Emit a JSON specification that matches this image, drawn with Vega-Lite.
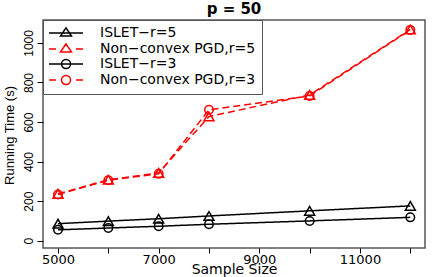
{
  "$schema": "https://vega.github.io/schema/vega-lite/v6.json",
  "width": 382,
  "height": 228,
  "autosize": "none",
  "padding": {"left": 43, "top": 20, "right": 11, "bottom": 29},
  "background": "white",
  "title": {"text": "p = 50", "font": "DejaVu Sans", "fontSize": 15, "fontWeight": "bold", "anchor": "middle", "frame": "group", "baseline": "alphabetic", "offset": -9, "color": "#000"},
  "config": {
    "view": {"stroke": "#555", "strokeWidth": 1.5},
    "axis": {"grid": false, "domain": false, "tickColor": "#000", "labelColor": "#000", "titleColor": "#000"}
  },
  "data": {"values": [
    {"series": "ISLET−r=5", "n": 5000, "time": 86},
    {"series": "ISLET−r=5", "n": 6000, "time": 99},
    {"series": "ISLET−r=5", "n": 7000, "time": 111},
    {"series": "ISLET−r=5", "n": 8000, "time": 125},
    {"series": "ISLET−r=5", "n": 10000, "time": 151},
    {"series": "ISLET−r=5", "n": 12000, "time": 176},
    {"series": "Non−convex PGD,r=5", "n": 5000, "time": 237},
    {"series": "Non−convex PGD,r=5", "n": 6000, "time": 308},
    {"series": "Non−convex PGD,r=5", "n": 7000, "time": 343},
    {"series": "Non−convex PGD,r=5", "n": 8000, "time": 628},
    {"series": "Non−convex PGD,r=5", "n": 10000, "time": 737},
    {"series": "Non−convex PGD,r=5", "n": 12000, "time": 1068},
    {"series": "ISLET−r=3", "n": 5000, "time": 55},
    {"series": "ISLET−r=3", "n": 6000, "time": 64},
    {"series": "ISLET−r=3", "n": 7000, "time": 73},
    {"series": "ISLET−r=3", "n": 8000, "time": 83},
    {"series": "ISLET−r=3", "n": 10000, "time": 100},
    {"series": "ISLET−r=3", "n": 12000, "time": 118},
    {"series": "Non−convex PGD,r=3", "n": 5000, "time": 234},
    {"series": "Non−convex PGD,r=3", "n": 6000, "time": 306},
    {"series": "Non−convex PGD,r=3", "n": 7000, "time": 338},
    {"series": "Non−convex PGD,r=3", "n": 8000, "time": 662},
    {"series": "Non−convex PGD,r=3", "n": 10000, "time": 732},
    {"series": "Non−convex PGD,r=3", "n": 12000, "time": 1066}
  ]},
  "encoding": {
    "x": {"field": "n", "type": "quantitative",
      "scale": {"domain": [4702, 12292], "nice": false, "zero": false},
      "axis": {"title": "Sample Size", "values": [5000, 6000, 7000, 8000, 9000, 10000, 11000, 12000], "format": "d",
        "labelExpr": "datum.value % 2000 == 1000 ? datum.label : ''",
        "tickSize": 5, "labelPadding": 0, "labelFont": "DejaVu Sans", "labelFontSize": 13, "labelFlush": false, "labelOverlap": false,
        "titleFont": "DejaVu Sans", "titleFontSize": 14, "titleFontWeight": "normal", "titleBaseline": "alphabetic", "titleY": 25}},
    "y": {"field": "time", "type": "quantitative",
      "scale": {"domain": [-37, 1116], "nice": false, "zero": false},
      "axis": {"title": "Running Time (s)", "values": [0, 200, 400, 600, 800, 1000], "format": "d",
        "tickSize": 6, "labelAngle": 270, "labelAlign": "center", "labelBaseline": "alphabetic", "labelPadding": 5,
        "labelFont": "Liberation Sans", "labelFontSize": 12, "labelFlush": false,
        "titleFont": "Liberation Sans", "titleFontSize": 13, "titleFontWeight": "normal", "titleAngle": 270,
        "titleBaseline": "alphabetic", "titleX": -30, "titleY": 115}},
    "color": {"field": "series", "type": "nominal",
      "scale": {"domain": ["ISLET−r=5", "Non−convex PGD,r=5", "ISLET−r=3", "Non−convex PGD,r=3"], "range": ["#000000", "#FF0000", "#000000", "#FF0000"]},
      "legend": {"orient": "none", "legendX": 0, "legendY": 0, "title": null, "fillColor": "white", "strokeColor": "#555",
        "padding": 6, "labelFont": "DejaVu Sans", "labelFontSize": 14, "labelOffset": 37, "rowPadding": 0,
        "symbolSize": 144, "symbolStrokeWidth": 1.5, "symbolOpacity": 1, "symbolFillColor": "transparent",
        "labelLimit": 300, "cornerRadius": 0, "labelColor": "#000"}}
  },
  "layer": [
    {"mark": {"type": "line", "strokeWidth": 1.5},
     "encoding": {
       "strokeDash": {"field": "series", "type": "nominal",
         "scale": {"domain": ["ISLET−r=3", "Non−convex PGD,r=3", "ISLET−r=5", "Non−convex PGD,r=5"], "range": [[1, 0], [7, 4], [1, 0], [7, 4]]},
         "legend": null}
     }},
    {"transform": [{"filter": {"field": "series", "oneOf": ["ISLET−r=5", "Non−convex PGD,r=5"]}}],
     "mark": {"type": "point", "shape": "triangle-up", "size": 100, "filled": false, "strokeWidth": 1.5, "opacity": 1}},
    {"transform": [{"filter": {"field": "series", "oneOf": ["ISLET−r=3", "Non−convex PGD,r=3"]}}],
     "mark": {"type": "point", "shape": "circle", "size": 72, "filled": false, "strokeWidth": 1.5, "opacity": 1}},
    {"mark": {"type": "point", "filled": false, "opacity": 0, "strokeWidth": 1.5},
     "encoding": {
       "shape": {"field": "series", "type": "nominal",
         "scale": {"domain": ["ISLET−r=5", "Non−convex PGD,r=5", "ISLET−r=3", "Non−convex PGD,r=3"],
           "range": ["M-1.17,0H4.5M1.67,-0.85L2.58,0.5L0.75,0.5Z",
                     "M-1.17,0H0M3.33,0H4.5M1.67,-0.85L2.58,0.5L0.75,0.5Z",
                     "M-1.17,0H4.5M2.42,0A0.75,0.75,0,1,1,0.92,0A0.75,0.75,0,1,1,2.42,0Z",
                     "M-1.17,0H0M3.33,0H4.5M2.42,0A0.75,0.75,0,1,1,0.92,0A0.75,0.75,0,1,1,2.42,0Z"]},
         "legend": {"orient": "none", "legendX": 0, "legendY": 0, "title": null}}
     }}
  ]
}
